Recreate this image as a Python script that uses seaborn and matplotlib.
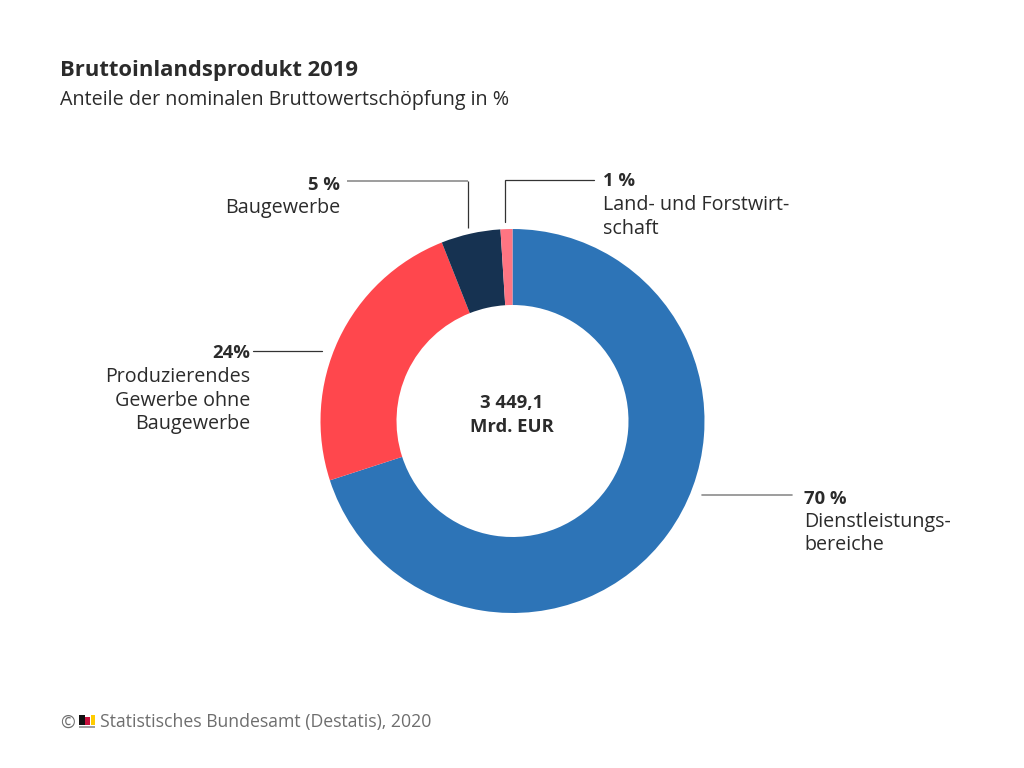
import matplotlib
matplotlib.use("Agg")
import matplotlib.pyplot as plt
import seaborn as sns

# Anteile in %, im Uhrzeigersinn ab 12 Uhr
sectors = ["Dienstleistungsbereiche", "Produzierendes Gewerbe ohne Baugewerbe", "Baugewerbe", "Land- und Forstwirtschaft"]
shares = [70, 24, 5, 1]
colors = ["#2d74b7", "#ff474d", "#163251", "#ff7582"]
title = "Bruttoinlandsprodukt 2019"
subtitle = "Anteile der nominalen Bruttowertschöpfung in %"
center_label = ["3 449,1", "Mrd. EUR"]
source = "Statistisches Bundesamt (Destatis), 2020"

sns.set_theme(style="white")
plt.rcParams["font.family"] = ["Open Sans", "DejaVu Sans"]

W, H = 1024, 768
TEXT = "#2b2b2b"
fig = plt.figure(figsize=(W / 100, H / 100), dpi=100)
ax = fig.add_axes([0, 0, 1, 1])


def Y(y):
    # Pixel von oben -> Achse von unten
    return H - y


ax.pie(shares, colors=sns.color_palette(colors), startangle=90, counterclock=False,
       center=(512.5, Y(421)), radius=192, wedgeprops=dict(width=76, linewidth=0))
ax.set_xlim(0, W)
ax.set_ylim(0, H)
ax.set_aspect("equal")
ax.axis("off")


def txt(x, y, s, size=14.2, weight="normal", ha="left", color=TEXT):
    ax.text(x, Y(y + 1.5), s, fontsize=size, fontweight=weight, ha=ha, va="center", color=color)


txt(60, 69, title, size=15.8, weight="bold")
txt(60, 99, subtitle)

BOLD = 13.3
txt(512, 402, center_label[0], size=BOLD, weight="bold", ha="center")
txt(512, 426, center_label[1], size=BOLD, weight="bold", ha="center")

# Beschriftungen
txt(340, 184, f"{shares[2]} %", size=BOLD, weight="bold", ha="right")
txt(340, 207, "Baugewerbe", ha="right")

txt(603, 180, f"{shares[3]} %", size=BOLD, weight="bold")
txt(603, 204, "Land- und Forstwirt-")
txt(603, 228, "schaft")

txt(250, 352, f"{shares[1]}%", size=BOLD, weight="bold", ha="right")
txt(250, 376, "Produzierendes", ha="right")
txt(250, 399, "Gewerbe ohne", ha="right")
txt(250, 423, "Baugewerbe", ha="right")

txt(804, 497, f"{shares[0]} %", size=BOLD, weight="bold")
txt(804, 520, "Dienstleistungs-")
txt(804, 544, "bereiche")

# Fuehrungslinien
gray = "#8c8c8c"
ax.plot([347, 468], [Y(181), Y(181)], color=gray, lw=1.2, solid_capstyle="butt")
ax.plot([468, 468], [Y(181), Y(228)], color="#333333", lw=0.9, solid_capstyle="butt")
ax.plot([594, 505, 505], [Y(180), Y(180), Y(222)], color="#333333", lw=0.9, solid_joinstyle="miter")
ax.plot([253, 322], [Y(351), Y(351)], color="#333333", lw=0.9)
ax.plot([702, 792], [Y(495), Y(495)], color=gray, lw=1.2)

# Fusszeile mit Logo
grey_text = "#6e6e6e"
txt(60, 721, "©", size=12.7, color=grey_text)
for x0, x1, top, c in [(79, 84.5, 715, "#111111"), (85, 89.5, 717, "#c8103c"), (91, 94.5, 715, "#ffcc00")]:
    ax.fill_between([x0, x1], Y(724.5), Y(top), color=c, lw=0)
ax.fill_between([79, 94.5], Y(728), Y(725.5), color="#a0a0a0", lw=0)
txt(100, 721, source, size=12.7, color=grey_text)

fig.savefig("out.png", dpi=100)
